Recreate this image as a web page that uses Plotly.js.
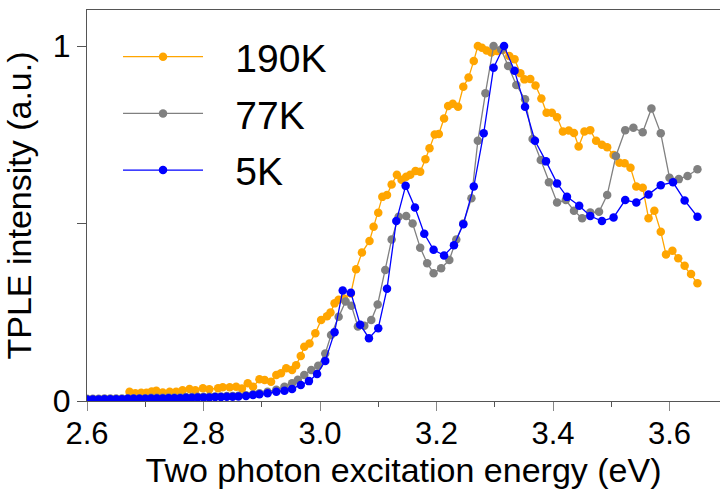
<!DOCTYPE html>
<html><head><meta charset="utf-8">
<script src="https://cdn.plot.ly/plotly-3.0.1.min.js"></script>
<style>html,body{margin:0;padding:0;background:#fff}#chart{width:720px;height:489px}</style>
</head><body><div id="chart"></div>
<script>
// 190K
var e190 = [2.673,2.683,2.693,2.702,2.711,2.719,2.730,2.742,2.753,2.764,2.776,2.786,2.799,2.810,2.825,2.833,2.845,2.856,2.866,2.876,2.885,2.896,2.905,2.916,2.925,2.933,2.942,2.952,2.959,2.967,2.973,2.982,2.992,3.002,3.012,3.018,3.025,3.032,3.041,3.053,3.062,3.072,3.085,3.092,3.100,3.107,3.115,3.123,3.132,3.140,3.148,3.155,3.164,3.172,3.181,3.188,3.197,3.204,3.213,3.220,3.228,3.237,3.246,3.255,3.264,3.271,3.278,3.286,3.294,3.304,3.314,3.325,3.334,3.344,3.351,3.361,3.370,3.380,3.389,3.398,3.407,3.417,3.427,3.436,3.444,3.454,3.464,3.474,3.484,3.493,3.504,3.514,3.523,3.533,3.543,3.554,3.564,3.574,3.585,3.594,3.605,3.615,3.626,3.637,3.648];
var i190 = [0.026,0.022,0.023,0.023,0.027,0.029,0.024,0.026,0.026,0.030,0.034,0.030,0.036,0.033,0.036,0.039,0.039,0.040,0.035,0.050,0.040,0.061,0.059,0.054,0.073,0.078,0.092,0.087,0.101,0.127,0.153,0.162,0.191,0.228,0.239,0.249,0.275,0.285,0.289,0.303,0.371,0.418,0.451,0.491,0.530,0.575,0.580,0.610,0.637,0.623,0.632,0.637,0.648,0.646,0.681,0.712,0.751,0.752,0.796,0.831,0.837,0.829,0.885,0.911,0.958,1.000,0.995,0.987,0.982,0.986,0.989,0.972,0.963,0.923,0.906,0.907,0.889,0.852,0.812,0.812,0.799,0.759,0.762,0.755,0.717,0.759,0.763,0.733,0.722,0.715,0.693,0.671,0.670,0.657,0.604,0.601,0.515,0.536,0.477,0.413,0.423,0.402,0.381,0.358,0.332];
// 77K
var e77 = [2.60,2.61,2.62,2.63,2.64,2.65,2.66,2.67,2.68,2.69,2.70,2.71,2.72,2.73,2.74,2.75,2.76,2.77,2.78,2.79,2.80,2.81,2.82,2.83,2.84,2.85,2.86,2.873,2.885,2.896,2.910,2.925,2.939,2.952,2.962,2.973,2.985,2.997,3.009,3.019,3.032,3.044,3.054,3.065,3.076,3.088,3.099,3.112,3.123,3.135,3.148,3.159,3.172,3.184,3.195,3.208,3.222,3.234,3.246,3.260,3.271,3.284,3.298,3.311,3.323,3.337,3.352,3.365,3.379,3.393,3.407,3.422,3.436,3.450,3.464,3.479,3.493,3.508,3.524,3.538,3.554,3.569,3.585,3.600,3.616,3.631,3.648];
var i77 = [0.006,0.006,0.006,0.007,0.007,0.007,0.007,0.008,0.008,0.008,0.008,0.009,0.009,0.009,0.010,0.010,0.010,0.011,0.011,0.012,0.012,0.012,0.013,0.013,0.014,0.014,0.015,0.016,0.019,0.022,0.026,0.032,0.040,0.050,0.060,0.073,0.087,0.099,0.134,0.186,0.237,0.280,0.268,0.210,0.212,0.228,0.272,0.369,0.455,0.519,0.521,0.500,0.432,0.388,0.360,0.374,0.397,0.455,0.500,0.571,0.733,0.867,1.000,0.990,0.944,0.890,0.850,0.738,0.679,0.616,0.559,0.566,0.536,0.515,0.531,0.533,0.580,0.690,0.763,0.770,0.757,0.824,0.754,0.629,0.625,0.634,0.653];
// 5K
var e5 = [2.60,2.61,2.62,2.63,2.64,2.65,2.66,2.67,2.68,2.69,2.70,2.71,2.72,2.73,2.74,2.75,2.76,2.77,2.78,2.79,2.80,2.81,2.82,2.83,2.84,2.85,2.86,2.873,2.885,2.896,2.910,2.925,2.939,2.952,2.967,2.981,2.995,3.009,3.025,3.039,3.053,3.069,3.084,3.100,3.115,3.131,3.147,3.163,3.179,3.195,3.213,3.230,3.246,3.264,3.281,3.298,3.316,3.334,3.352,3.369,3.388,3.407,3.424,3.445,3.464,3.484,3.504,3.524,3.543,3.564,3.585,3.606,3.626,3.648];
var i5 = [0.004,0.004,0.004,0.005,0.005,0.005,0.005,0.006,0.006,0.006,0.006,0.007,0.007,0.007,0.008,0.008,0.008,0.009,0.009,0.010,0.010,0.010,0.011,0.011,0.012,0.012,0.013,0.014,0.017,0.019,0.022,0.026,0.029,0.034,0.045,0.056,0.076,0.113,0.194,0.311,0.305,0.215,0.177,0.205,0.316,0.507,0.606,0.545,0.471,0.426,0.410,0.439,0.498,0.604,0.754,0.939,1.000,0.930,0.829,0.733,0.675,0.613,0.575,0.550,0.521,0.507,0.517,0.566,0.559,0.582,0.608,0.616,0.565,0.519];

var names = ['190K','77K','5K'];
var colors = ['#FFA500','#808080','#0000FF'];
var xs = [e190, e77, e5];
var ys = [i190, i77, i5];
var xTickVals = [2.6,2.8,3.0,3.2,3.4,3.6];
var xTickText = ['2.6','2.8','3.0','3.2','3.4','3.6'];
var xMinorVals = [2.7,2.9,3.1,3.3,3.5];
var yTickVals = [0,0.5,1];
var yTickText = ['0','','1'];

var FONT = 'Liberation Sans, Arial, sans-serif';
var GAP = '\u2002\u2009'; // spacing between legend symbol and label
var traces = names.map(function(n,k){
  return {x: xs[k], y: ys[k], name: GAP + n, type:'scatter', mode:'lines+markers',
    legendgroup: n,
    line:{color: colors[k], width:1.3},
    marker:{color: colors[k], size:8.5, line:{width:0}}};
});

var layout = {
  width:720, height:489,
  margin:{l:87, r:0, t:10, b:88},
  paper_bgcolor:'#fff', plot_bgcolor:'#fff',
  font:{family:FONT, color:'#000'},
  showlegend:true,
  legend:{x:0.049, y:0.962, xanchor:'left', yanchor:'top', bgcolor:'rgba(0,0,0,0)',
    font:{size:39, family:FONT}, itemwidth:80, tracegroupgap:3, traceorder:'grouped'},
  xaxis:{range:[2.6,3.6867], showline:true, mirror:true, linecolor:'#555', linewidth:1,
    showgrid:false, zeroline:false, ticks:'outside', ticklen:9, tickcolor:'#888', tickwidth:1,
    tickmode:'array', tickvals:xTickVals, ticktext:xTickText, ticklabelstandoff:-4,
    tickfont:{size:31, family:FONT},
    minor:{tickmode:'array', tickvals:xMinorVals, ticks:'outside', ticklen:5, tickcolor:'#555'},
    title:{text:'Two photon excitation energy (eV)', standoff:16, font:{size:34, family:FONT}}},
  yaxis:{range:[0,1.1014], showline:true, mirror:true, linecolor:'#555', linewidth:1,
    showgrid:false, zeroline:false, ticks:'outside', ticklen:9, tickcolor:'#555',
    tickmode:'array', tickvals:yTickVals, ticktext:yTickText,
    tickfont:{size:32, family:FONT},
    title:{text:'TPLE intensity (a.u.)', font:{size:34, family:FONT}}}
};
Plotly.newPlot('chart', traces, layout, {displayModeBar:false, staticPlot:true});
</script></body></html>
